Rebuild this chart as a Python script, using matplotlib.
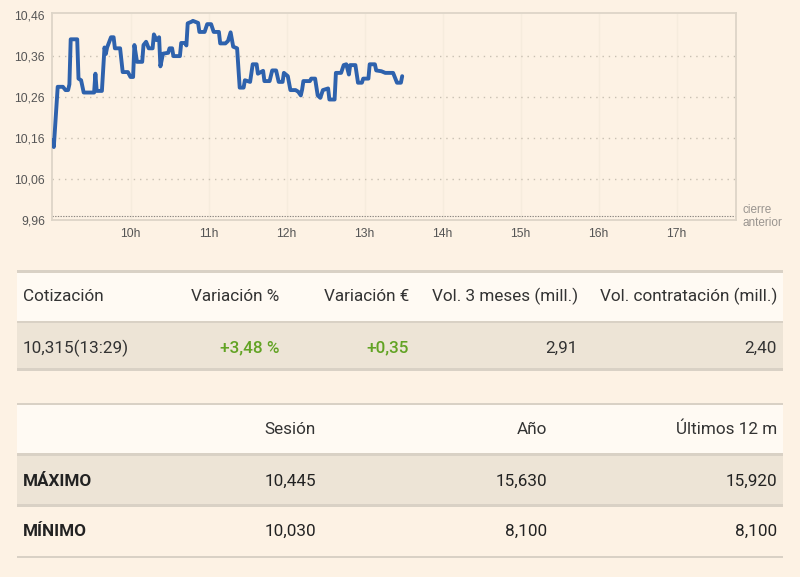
import matplotlib
matplotlib.use("Agg")
import matplotlib.pyplot as plt
from matplotlib import font_manager
from matplotlib.patches import Rectangle

# intraday quote (time, price)
times = ["9:00", "9:01", "9:04", "9:08", "9:10", "9:12", "9:13", "9:14", "9:19", "9:20",
         "9:22", "9:24", "9:32", "9:33", "9:34", "9:38", "9:40", "9:41", "9:42", "9:45",
         "9:47", "9:48", "9:52", "9:54", "9:58", "10:00", "10:02", "10:03", "10:05", "10:09",
         "10:10", "10:12", "10:14", "10:17", "10:18", "10:20", "10:22", "10:23", "10:25", "10:29",
         "10:30", "10:32", "10:33", "10:38", "10:39", "10:42", "10:43", "10:44", "10:47", "10:48",
         "10:52", "10:53", "10:57", "10:59", "11:02", "11:04", "11:08", "11:09", "11:13", "11:15",
         "11:17", "11:19", "11:22", "11:24", "11:27", "11:28", "11:32", "11:34", "11:37", "11:38",
         "11:42", "11:43", "11:47", "11:49", "11:52", "11:54", "11:57", "11:58", "12:01", "12:03",
         "12:07", "12:09", "12:11", "12:12", "12:13", "12:18", "12:19", "12:22", "12:24", "12:26",
         "12:28", "12:32", "12:33", "12:37", "12:38", "12:42", "12:44", "12:46", "12:48", "12:49",
         "12:53", "12:55", "12:58", "12:59", "13:03", "13:04", "13:08", "13:09", "13:13", "13:16",
         "13:22", "13:25", "13:28", "13:29"]
prices = [10.153, 10.137, 10.284, 10.284, 10.276, 10.276, 10.290, 10.400, 10.400, 10.304,
          10.300, 10.270, 10.270, 10.316, 10.274, 10.274, 10.380, 10.364, 10.380, 10.405,
          10.405, 10.378, 10.378, 10.320, 10.320, 10.308, 10.308, 10.386, 10.345, 10.345,
          10.386, 10.394, 10.378, 10.378, 10.412, 10.398, 10.405, 10.334, 10.365, 10.367,
          10.378, 10.378, 10.359, 10.359, 10.391, 10.391, 10.385, 10.439, 10.443, 10.445,
          10.440, 10.418, 10.418, 10.437, 10.437, 10.418, 10.418, 10.390, 10.390, 10.396,
          10.417, 10.382, 10.378, 10.282, 10.282, 10.300, 10.296, 10.339, 10.339, 10.316,
          10.323, 10.298, 10.298, 10.324, 10.324, 10.296, 10.296, 10.318, 10.310, 10.276,
          10.276, 10.272, 10.263, 10.277, 10.298, 10.298, 10.304, 10.304, 10.263, 10.257,
          10.276, 10.280, 10.253, 10.253, 10.318, 10.318, 10.337, 10.339, 10.314, 10.337,
          10.337, 10.294, 10.294, 10.304, 10.304, 10.339, 10.339, 10.324, 10.322, 10.318,
          10.318, 10.294, 10.294, 10.310]
prev_close = 9.968
y_ticks = [9.96, 10.06, 10.16, 10.26, 10.36, 10.46]
x_hours = [10, 11, 12, 13, 14, 15, 16, 17]

quote_header = ["Cotización", "Variación %", "Variación €", "Vol. 3 meses (mill.)",
                "Vol. contratación (mill.)"]
quote_row = ["10,315(13:29)", "+3,48 %", "+0,35", "2,91", "2,40"]
range_header = ["", "Sesión", "Año", "Últimos 12 m"]
range_rows = [["MÁXIMO", "10,445", "15,630", "15,920"],
              ["MÍNIMO", "10,030", "8,100", "8,100"]]

BG = "#fdf2e4"
W, H = 800, 577

installed = {f.name for f in font_manager.fontManager.ttflist}
if "Liberation Sans Narrow" in installed:
    tfont, tsize = "Liberation Sans Narrow", 14.5
else:
    tfont, tsize = "Roboto", 12.3


def hours(s):
    h, m = s.split(":")
    return int(h) + int(m) / 60


fig = plt.figure(figsize=(W / 100, H / 100), dpi=100, facecolor=BG)

# chart area, placed in pixels
left, right, top, bottom = 52, 736, 13.3, 219.5
ax = fig.add_axes([left / W, 1 - bottom / H, (right - left) / W, (bottom - top) / H])
ax.set_facecolor(BG)
ax.set_xlim(9 - 0.5 / 78, 9 + (right - 52.5) / 78)
ax.set_ylim(9.96, 10.4635)

for h in x_hours:
    ax.axvline(h, color="#f6ecdd", lw=1, zorder=0)
for v in y_ticks[1:-1]:
    ax.axhline(v, color="#c9c0b2", lw=1, dashes=(1, 3.5), zorder=1)
ax.axhline(prev_close, color="#8a8580", lw=0.8, dashes=(1.2, 1.2), zorder=1)

ax.plot([hours(t) for t in times], prices, color="#2e62ad", lw=2.8,
        solid_joinstyle="round", solid_capstyle="round", zorder=3)

for s in ax.spines.values():
    s.set_color("#ddd5c8")
    s.set_linewidth(1.3)
ax.set_yticks(y_ticks)
ax.set_yticklabels([f"{v:.2f}".replace(".", ",") for v in y_ticks])
ax.set_xticks(x_hours)
ax.set_xticklabels([f"{h}h" for h in x_hours])
ax.tick_params(length=0, labelsize=8.7, labelcolor="#555555", pad=6)
ax.tick_params(axis="y", pad=5)
for lab in ax.get_xticklabels() + ax.get_yticklabels():
    lab.set_family("Liberation Sans")
ax.text(1.009, (prev_close - 9.96) / (10.4635 - 9.96), "cierre\nanterior",
        transform=ax.transAxes, ha="left", va="center", fontsize=8.5,
        color="#9a9590", family="Liberation Sans", linespacing=1.1)

# tables drawn in a full-figure pixel overlay
ov = fig.add_axes([0, 0, 1, 1])
ov.set_xlim(0, W)
ov.set_ylim(H, 0)
ov.axis("off")

tx0, tx1 = 17, 783
BORDER = "#d9d1c5"


def band(y0, y1, color):
    ov.add_patch(Rectangle((tx0, y0), tx1 - tx0, y1 - y0, color=color, lw=0))


# quotation table
band(270, 272.5, BORDER)
band(272.5, 320.7, "#fffaf3")
band(320.7, 323.3, BORDER)
band(323.3, 368.3, "#ede4d6")
band(368.3, 371, BORDER)

q_x = [23, 279, 409, 578, 777]
q_ha = ["left", "right", "right", "right", "right"]
q_col = ["#333333", "#62a324", "#62a324", "#333333", "#333333"]
q_wt = ["normal", "medium", "medium", "normal", "normal"]
for x, ha, lab in zip(q_x, q_ha, quote_header):
    ov.text(x, 300.7, lab, ha=ha, va="baseline", family=tfont, fontsize=tsize, color="#333333")
for x, ha, c, wt, lab in zip(q_x, q_ha, q_col, q_wt, quote_row):
    ov.text(x, 352.8, lab, ha=ha, va="baseline", family=tfont, fontsize=tsize, color=c,
            weight=wt)

# range table
band(403, 405.3, BORDER)
band(405.3, 453.3, "#fffaf3")
band(453.3, 456, BORDER)
band(456, 504.3, "#ede4d6")
band(504.3, 507, BORDER)
band(555.7, 558.3, BORDER)

r_x = [23, 316, 547, 777]
r_ha = ["left", "right", "right", "right"]
for x, ha, lab in zip(r_x, r_ha, range_header):
    ov.text(x, 434.5, lab, ha=ha, va="baseline", family=tfont, fontsize=tsize, color="#333333")
for yb, row in zip([485.7, 536.3], range_rows):
    for i, (x, ha, lab) in enumerate(zip(r_x, r_ha, row)):
        ov.text(x, yb, lab, ha=ha, va="baseline", family=tfont, fontsize=tsize,
                color="#222222", weight="bold" if i == 0 else "normal")

fig.savefig("out.png", dpi=100, facecolor=BG)
